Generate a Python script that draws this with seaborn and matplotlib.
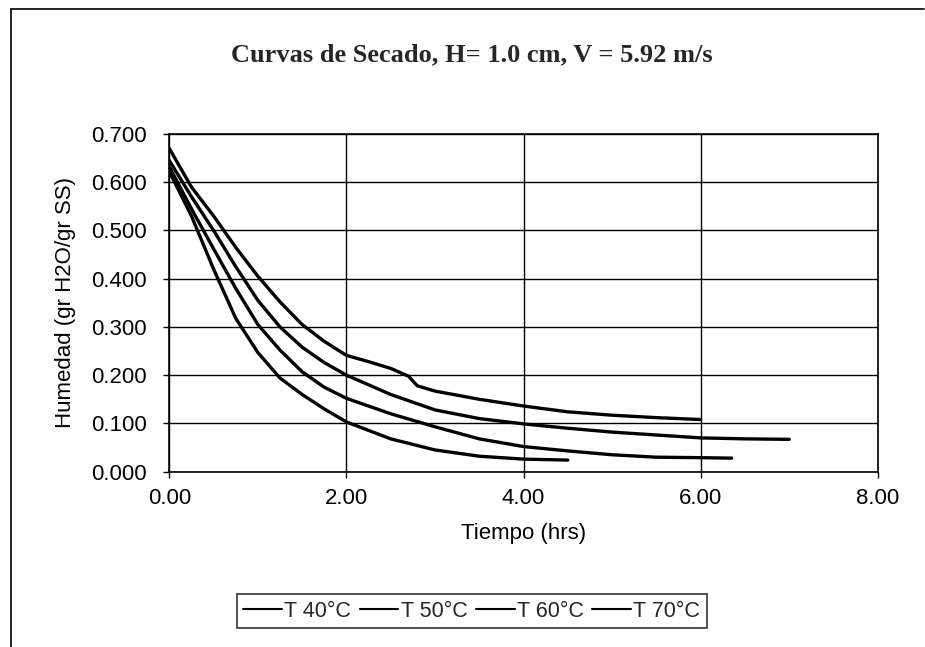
#!/usr/bin/env python3
import numpy as np
import pandas as pd
import matplotlib
matplotlib.use('Agg')
import matplotlib.pyplot as plt
import seaborn as sns

# drying curves
t_40 = [0, 0.25, 0.5, 0.75, 1.0, 1.25, 1.5, 1.75, 2.0, 2.25, 2.5, 2.7, 2.8, 3.0, 3.5, 4.0, 4.5, 5.0, 5.5, 6.0]
h_40 = [0.670, 0.590, 0.530, 0.465, 0.405, 0.352, 0.305, 0.270, 0.241, 0.228, 0.214, 0.198, 0.178, 0.167, 0.150, 0.136, 0.124, 0.117, 0.112, 0.108]

t_50 = [0, 0.25, 0.5, 0.75, 1.0, 1.25, 1.5, 1.75, 2.0, 2.5, 3.0, 3.5, 4.0, 4.5, 5.0, 5.5, 6.0, 6.5, 7.0]
h_50 = [0.645, 0.570, 0.500, 0.425, 0.355, 0.300, 0.258, 0.226, 0.200, 0.160, 0.128, 0.110, 0.099, 0.090, 0.082, 0.076, 0.070, 0.068, 0.067]

t_60 = [0, 0.25, 0.5, 0.75, 1.0, 1.25, 1.5, 1.75, 2.0, 2.5, 3.0, 3.5, 4.0, 4.5, 5.0, 5.5, 6.0, 6.35]
h_60 = [0.632, 0.545, 0.462, 0.380, 0.305, 0.252, 0.207, 0.175, 0.152, 0.120, 0.093, 0.068, 0.052, 0.043, 0.035, 0.030, 0.029, 0.028]

t_70 = [0, 0.25, 0.5, 0.75, 1.0, 1.25, 1.5, 1.75, 2.0, 2.5, 3.0, 3.5, 4.0, 4.5]
h_70 = [0.622, 0.530, 0.420, 0.318, 0.247, 0.194, 0.160, 0.130, 0.103, 0.068, 0.045, 0.032, 0.026, 0.024]

labels = ['T 40°C', 'T 50°C', 'T 60°C', 'T 70°C']

frames = []
for lab, t, h in zip(labels, [t_40, t_50, t_60, t_70], [h_40, h_50, h_60, h_70]):
    frames.append(pd.DataFrame({'Tiempo': t, 'Humedad': h, 'serie': lab}))
df = pd.concat(frames, ignore_index=True)

sns.set_theme(style='white')
plt.rcParams['font.family'] = ['Liberation Sans', 'DejaVu Sans']

fig = plt.figure(figsize=(9.25, 6.47), dpi=100)
ax = fig.add_axes([0.183, 0.271, 0.766, 0.522])

sns.lineplot(data=df, x='Tiempo', y='Humedad', hue='serie', sort=False,
             palette=['black'] * 4, linewidth=2.4, ax=ax, estimator=None)

ax.set_xlim(0, 8)
ax.set_ylim(0, 0.7)
ax.set_xticks(np.arange(0, 8.01, 2))
ax.set_yticks(np.arange(0, 0.701, 0.1))
ax.set_xticklabels([f'{v:.2f}' for v in np.arange(0, 8.01, 2)])
ax.set_yticklabels([f'{v:.3f}' for v in np.arange(0, 0.701, 0.1)])
ax.tick_params(axis='both', labelsize=16, colors='black', direction='out',
               length=4, width=1, bottom=True, left=True)
ax.tick_params(axis='x', pad=8)
ax.tick_params(axis='y', pad=12)
ax.grid(True, color='black', linewidth=1.0)
for s in ax.spines.values():
    s.set_color('black')
    s.set_linewidth(1.2)

ax.set_xlabel('Tiempo (hrs)', fontsize=16, color='black', labelpad=10)
ax.set_ylabel('Humedad (gr H2O/gr SS)', fontsize=16, color='black', labelpad=11)

fig.text(0.51, 0.916, 'Curvas de Secado, H= 1.0 cm, V = 5.92 m/s',
         ha='center', va='center', fontsize=19, fontweight='bold',
         family=['Liberation Serif', 'DejaVu Serif'])

handles, labs = ax.get_legend_handles_labels()
ax.legend_.remove()
leg = fig.legend(handles, labs, loc='center', bbox_to_anchor=(0.51, 0.055),
                 ncol=4, fontsize=15.5, frameon=True, fancybox=False,
                 handlelength=1.8, handletextpad=0.1, columnspacing=0.4,
                 borderpad=0.3, borderaxespad=0)
leg.get_frame().set_edgecolor('black')
leg.get_frame().set_linewidth(1.2)
for ln in leg.get_lines():
    ln.set_linewidth(1.5)

# chart area border (left, top)
fig.add_artist(plt.Line2D([0.012, 0.012], [0.0, 0.986], color='black', lw=1.2))
fig.add_artist(plt.Line2D([0.012, 0.999], [0.986, 0.986], color='black', lw=1.2))

fig.savefig('out.png', dpi=100)
